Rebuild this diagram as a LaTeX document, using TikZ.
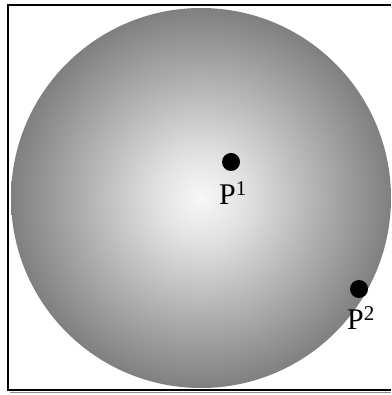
\documentclass[tikz,border=0pt]{standalone}
\usepackage{fontspec}
\setmainfont{Liberation Serif}
\usepackage{tikz}
\usetikzlibrary{positioning}

\pgfdeclareradialshading{ballshade}{\pgfpoint{0bp}{0bp}}{%
  color(0bp)=(white!97!black); color(6bp)=(white!88!black);
  color(25bp)=(black!50); color(50bp)=(black!50)}

\tikzset{
  dot/.style={circle, fill=black, inner sep=0pt, minimum size=18pt},
  lbl/.style={inner sep=0pt, font=\fontsize{30}{32}\selectfont}
}

\begin{document}
\begin{tikzpicture}[x=1pt, y=1pt]
    \useasboundingbox (0,0) rectangle (391,395);

    % rahmen mit schatten
    \draw[black!45, line width=1.5pt] (10,2.5) -- (391,2.5);
    \draw[black, line width=1.2pt] (391,5) -- (8,5) -- (8,390) -- (391,390);

    % kugel
    \shade[shading=ballshade] (201,197) circle (190);

    % punkte
    \node[dot] (p1) at (231,233) {};
    \node[dot] (p2) at (359,106) {};

    % beschriftung
    \node[lbl, anchor=base west] (l1) at (219,190) {P\textsuperscript{1}};
    \node[lbl, anchor=base west] (l2) at (347,65) {P\textsuperscript{2}};

\end{tikzpicture}
\end{document}
